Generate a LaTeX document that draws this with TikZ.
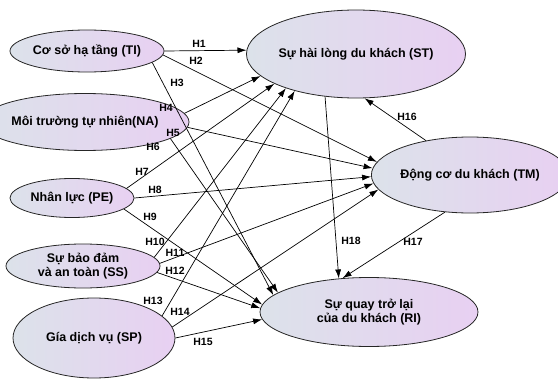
\documentclass[tikz,border=0pt]{standalone}
\usepackage{fontspec}
\setmainfont{Liberation Sans}
\usetikzlibrary{shapes.geometric, arrows.meta}
\definecolor{leftfill}{RGB}{220,226,234}
\definecolor{rightfill}{RGB}{232,208,242}
\tikzstyle{factor} = [ellipse, draw=black!85, line width=0.8pt, left color=leftfill, right color=rightfill, inner sep=0pt, align=center, font=\bfseries\fontsize{12.5}{13.5}\selectfont]
\tikzstyle{arrow} = [line width=0.7pt, ->, >={Latex[length=9pt,width=6pt]}]
\tikzstyle{hyp} = [font=\bfseries\fontsize{10.5}{12}\selectfont, inner sep=1pt]

\begin{document}
\begin{tikzpicture}[x=1pt, y=-1pt]
    \useasboundingbox (0,0) rectangle (558,380);

    \node (ti) [factor, minimum width=154pt, minimum height=42pt] at (87,51) {Cơ sở hạ tầng (TI)};
    \node (na) [factor, minimum width=156pt, minimum height=57pt] at (85,122) {Môi trường tự nhiên(NA)};
    \node (pe) [factor, minimum width=124pt, minimum height=39pt] at (72,198) {Nhân lực (PE)};
    \node (ss) [factor, minimum width=154pt, minimum height=44pt] at (83,266) {Sự bảo đảm\\và an toàn (SS)};
    \node (sp) [factor, minimum width=162pt, minimum height=80pt] at (94,338) {Gía dịch vụ (SP)};
    \node (st) [factor, minimum width=182pt, minimum height=88pt] at (356,54) {Sự hài lòng du khách (ST)};
    \node (tm) [factor, minimum width=174pt, minimum height=76pt] at (470,175) {Động cơ du khách (TM)};
    \node (ri) [factor, minimum width=218pt, minimum height=69pt] at (369,312) {Sự quay trở lại\\của du khách (RI)};

    \draw [arrow] (ti.east) -- (st.178);
    \draw [arrow] (ti.-3) -- (tm.172);
    \draw [arrow] (ti.-10) -- (ri.170);
    \draw [arrow] (na.5) -- (st.193);
    \draw [arrow] (na.-3) -- (tm.176);
    \draw [arrow] (na.-11) -- (ri.168);
    \draw [arrow] (pe.10) -- (st.200);
    \draw [arrow] (pe.east) -- (tm.181);
    \draw [arrow] (pe.-12) -- (ri.176);
    \draw [arrow] (ss.7) -- (st.206);
    \draw [arrow] (ss.2) -- (tm.185);
    \draw [arrow] (ss.-5) -- (ri.178);
    \draw [arrow] (sp.18) -- (st.211);
    \draw [arrow] (sp.8) -- (tm.189);
    \draw [arrow] (sp.east) -- (ri.184);
    \draw [arrow] (tm.142) -- (st.281);
    \draw [arrow] (tm.236) -- (ri.128);
    \draw [arrow] (st.234) -- (ri.132);

    \node (h1) [hyp] at (199,44) {H1};
    \node (h2) [hyp] at (196,61) {H2};
    \node (h3) [hyp] at (177,83) {H3};
    \node (h4) [hyp] at (166,108) {H4};
    \node (h5) [hyp] at (173,133) {H5};
    \node (h6) [hyp] at (153,147) {H6};
    \node (h7) [hyp] at (142,172) {H7};
    \node (h8) [hyp] at (155,190) {H8};
    \node (h9) [hyp] at (150,217) {H9};
    \node (h10) [hyp] at (155,242) {H10};
    \node (h11) [hyp] at (175,253) {H11};
    \node (h12) [hyp] at (175,271) {H12};
    \node (h13) [hyp] at (153,301) {H13};
    \node (h14) [hyp] at (180,312) {H14};
    \node (h15) [hyp] at (203,342) {H15};
    \node (h16) [hyp] at (407,117) {H16};
    \node (h17) [hyp] at (413,242) {H17};
    \node (h18) [hyp] at (351,241) {H18};
\end{tikzpicture}
\end{document}
